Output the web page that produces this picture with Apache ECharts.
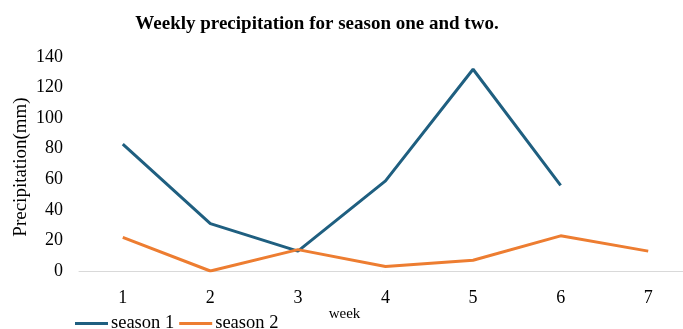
<!DOCTYPE html>
<html>
<head>
<meta charset="utf-8">
<script src="https://cdn.jsdelivr.net/npm/echarts@6/dist/echarts.min.js"></script>
<style>
html,body{margin:0;padding:0;background:#fff;}
#chart{width:683px;height:329px;}
</style>
</head>
<body>
<div id="chart"></div>
<script>
// Weekly precipitation (mm)
const weeks = ['1', '2', '3', '4', '5', '6', '7'];
const season1 = [83, 31, 13, 59, 132, 56, null];
const season2 = [22, 0, 14, 3, 7, 23, 13];
const yTicks = [0, 140, 20]; // min, max, step

const serif = '"Liberation Serif", "Times New Roman", serif';
const chart = echarts.init(document.getElementById('chart'));
chart.setOption({
  animation: false,
  backgroundColor: '#fff',
  title: {
    text: 'Weekly precipitation for season one and two.',
    left: 312,
    textAlign: 'center',
    top: 10,
    textStyle: { fontFamily: serif, fontWeight: 'bold', fontSize: 19, color: '#000' }
  },
  legend: {
    left: 70,
    top: 309,
    itemWidth: 33,
    itemHeight: 3,
    itemGap: 5,
    icon: 'rect',
    textStyle: { fontFamily: serif, fontSize: 18.5, color: '#000', padding: [0, 0, 0, -2] },
    data: ['season 1', 'season 2']
  },
  grid: {
    left: 79, width: 613, top: 57, bottom: 58,
    containLabel: false,
    outerBoundsMode: 'none'
  },
  xAxis: {
    type: 'category',
    data: weeks,
    boundaryGap: true,
    name: 'week',
    nameLocation: 'middle',
    nameGap: 36,
    nameMoveOverlap: false,
    nameTextStyle: { fontFamily: serif, fontSize: 15, color: '#000', padding: [0, 0, 0, -82] },
    axisLine: { lineStyle: { color: '#d9d9d9', width: 1 } },
    axisTick: { show: false },
    axisLabel: { fontFamily: serif, fontSize: 18, color: '#000', margin: 18 }
  },
  yAxis: {
    type: 'value',
    min: yTicks[0],
    max: yTicks[1],
    interval: yTicks[2],
    name: 'Precipitation(mm)',
    nameLocation: 'middle',
    nameGap: 48,
    nameMoveOverlap: false,
    nameTextStyle: { fontFamily: serif, fontSize: 19, color: '#000', padding: [0, 0, 0, -6] },
    axisLine: { show: false },
    axisTick: { show: false },
    splitLine: { show: false },
    axisLabel: { fontFamily: serif, fontSize: 18, color: '#000', margin: 16 }
  },
  series: [
    {
      name: 'season 1',
      type: 'line',
      data: season1,
      symbol: 'none',
      color: '#1F5F80',
      lineStyle: { width: 3, color: '#1F5F80' }
    },
    {
      name: 'season 2',
      type: 'line',
      data: season2,
      symbol: 'none',
      color: '#ED7D31',
      lineStyle: { width: 3, color: '#ED7D31' }
    }
  ]
});
</script>
</body>
</html>
